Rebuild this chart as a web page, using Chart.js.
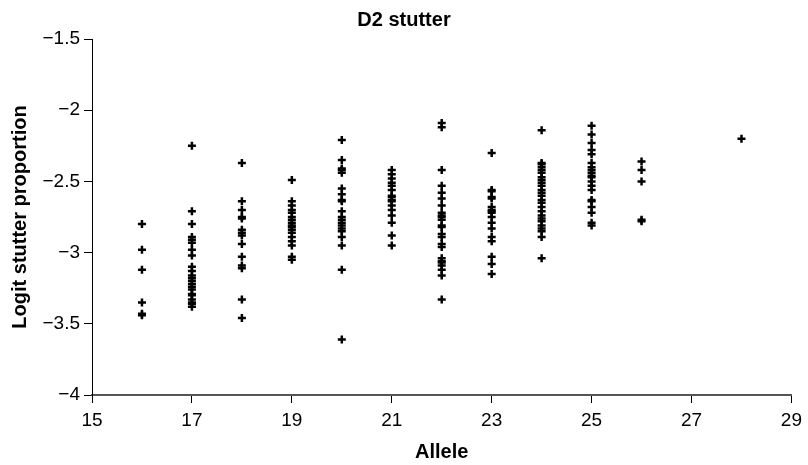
<!DOCTYPE html>
<html>
<head>
<meta charset="utf-8">
<script src="https://cdn.jsdelivr.net/npm/chart.js@4.4.1/dist/chart.umd.min.js"></script>
<style>
  html, body { margin: 0; padding: 0; background: #fff; }
  #wrap { width: 808px; height: 465px; }
</style>
</head>
<body>
<div id="wrap"><canvas id="myChart"></canvas></div>
<script>
// allele values and logit stutter proportions
var alleles = [16, 17, 18, 19, 20, 21, 22, 23, 24, 25, 26, 28];

var a16 = [-2.80, -2.98, -3.12, -3.35, -3.43, -3.44];
var a17 = [-2.25, -2.71, -2.80, -2.89, -2.91, -2.93, -2.98, -3.02, -3.10, -3.13, -3.16,
           -3.18, -3.20, -3.22, -3.24, -3.26, -3.29, -3.30, -3.33, -3.35, -3.36, -3.38];
var a18 = [-2.37, -2.64, -2.70, -2.75, -2.76, -2.84, -2.86, -2.88, -2.94, -3.03, -3.09,
           -3.11, -3.33, -3.46];
var a19 = [-2.49, -2.64, -2.67, -2.70, -2.72, -2.75, -2.77, -2.79, -2.81, -2.82, -2.84,
           -2.86, -2.89, -2.92, -2.95, -3.03, -3.05];
var a20 = [-2.21, -2.35, -2.41, -2.42, -2.44, -2.55, -2.59, -2.63, -2.64, -2.71, -2.75,
           -2.77, -2.79, -2.81, -2.83, -2.85, -2.89, -2.95, -3.12, -3.61];
var a21 = [-2.42, -2.45, -2.48, -2.51, -2.53, -2.56, -2.60, -2.61, -2.63, -2.64, -2.67,
           -2.70, -2.74, -2.79, -2.88, -2.95];
var a22 = [-2.09, -2.12, -2.42, -2.53, -2.58, -2.62, -2.67, -2.72, -2.74, -2.75, -2.77,
           -2.81, -2.82, -2.87, -2.89, -2.94, -2.96, -3.04, -3.06, -3.07, -3.09, -3.12,
           -3.16, -3.33];
var a23 = [-2.30, -2.56, -2.57, -2.61, -2.62, -2.68, -2.70, -2.71, -2.72, -2.75, -2.79,
           -2.83, -2.89, -2.92, -3.03, -3.08, -3.15];
var a24 = [-2.14, -2.37, -2.38, -2.40, -2.42, -2.44, -2.47, -2.49, -2.51, -2.53, -2.56,
           -2.58, -2.60, -2.63, -2.65, -2.68, -2.71, -2.74, -2.76, -2.78, -2.81, -2.83,
           -2.85, -2.89, -3.04];
var a25 = [-2.11, -2.17, -2.23, -2.28, -2.31, -2.37, -2.40, -2.42, -2.44, -2.46, -2.47,
           -2.50, -2.53, -2.56, -2.63, -2.64, -2.68, -2.72, -2.79, -2.81];
var a26 = [-2.36, -2.42, -2.50, -2.77, -2.78];
var a28 = [-2.20];

var xTicks = [15, 17, 19, 21, 23, 25, 27, 29];
var yTicks = [-4, -3.5, -3, -2.5, -2, -1.5];

var columns = [a16, a17, a18, a19, a20, a21, a22, a23, a24, a25, a26, a28];

// flatten into scatter points
var points = [];
columns.forEach(function (vals, i) {
    vals.forEach(function (v) {
        points.push({ x: alleles[i], y: v });
    });
});

var tickFont = { family: 'Liberation Sans, Arial, sans-serif', size: 19 };
var titleFont = { family: 'Liberation Sans, Arial, sans-serif', size: 20, weight: 'bold' };

var ctx = document.getElementById('myChart').getContext('2d');

var myChart = new Chart(ctx, {
    type: 'scatter',
    data: {
        datasets: [{
            label: 'D2 stutter',
            data: points,
            pointStyle: 'cross',
            pointRadius: 4,
            pointHoverRadius: 4,
            borderColor: '#000',
            backgroundColor: '#000',
            borderWidth: 2.5
        }]
    },
    options: {
        responsive: true,
        maintainAspectRatio: false,
        animation: false,
        layout: { padding: 0 },
        plugins: {
            legend: { display: false },
            tooltip: { enabled: false },
            title: {
                display: true,
                text: 'D2 stutter',
                color: '#000',
                font: titleFont,
                padding: { top: 8, bottom: 7 }
            }
        },
        scales: {
            x: {
                type: 'linear',
                min: 15,
                max: 29,
                afterBuildTicks: function (scale) {
                    scale.ticks = xTicks.map(function (v) { return { value: v }; });
                },
                afterFit: function (scale) { scale.height = 70; },
                ticks: {
                    color: '#000',
                    font: tickFont,
                    padding: 6,
                    maxRotation: 0
                },
                grid: {
                    drawOnChartArea: false,
                    drawTicks: true,
                    tickLength: 8,
                    color: '#000',
                    lineWidth: 1
                },
                border: { display: true, color: '#555', width: 2 },
                title: {
                    display: true,
                    text: 'Allele',
                    color: '#000',
                    font: titleFont,
                    padding: { top: 0, bottom: 1 }
                }
            },
            y: {
                type: 'linear',
                min: -4,
                max: -1.5,
                afterBuildTicks: function (scale) {
                    scale.ticks = yTicks.map(function (v) { return { value: v }; });
                },
                afterFit: function (scale) { scale.width = 92; },
                ticks: {
                    color: '#000',
                    font: tickFont,
                    padding: 4,
                    callback: function (v) {
                        return String(v).replace('-', '\u2212');
                    }
                },
                grid: {
                    drawOnChartArea: false,
                    drawTicks: true,
                    tickLength: 8,
                    color: '#000',
                    lineWidth: 1
                },
                border: { display: true, color: '#000', width: 1 },
                title: {
                    display: true,
                    text: 'Logit stutter proportion',
                    color: '#000',
                    font: titleFont,
                    padding: { top: 8, bottom: 0 }
                }
            }
        }
    }
});
</script>
</body>
</html>
